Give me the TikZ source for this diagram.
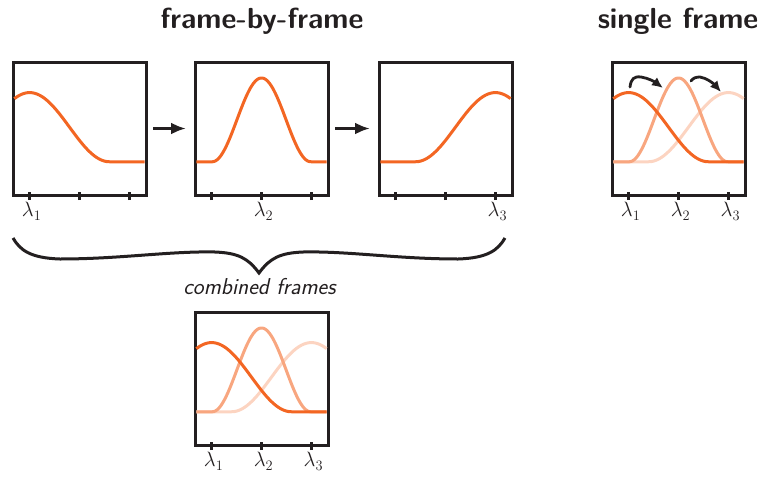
\documentclass[tikz,border=0pt]{standalone}
\usetikzlibrary{arrows.meta}
\definecolor{ink}{RGB}{35,31,32}
\definecolor{orng}{RGB}{243,102,35}
\colorlet{orngB}{orng!58!white}
\colorlet{orngC}{orng!28!white}
\begin{document}
\begin{tikzpicture}[x=1pt,y=-1pt,
  declare function={bump(\s,\m,\v)=(abs(\s-\m)<\v)*(1+cos(180*(\s-\m)/\v))/2;},
  fbox/.style={draw=ink, line width=3pt, minimum size=133pt, inner sep=0pt, outer sep=0pt, anchor=north west},
  cA/.style={draw=orng, line width=3pt},
  cB/.style={draw=orngB, line width=3pt},
  cC/.style={draw=orngC, line width=3pt},
  tickmark/.style={draw=ink, line width=3pt},
  lam/.style={anchor=base, inner sep=0pt, xshift=2pt, text=ink, font=\fontsize{20}{22}\selectfont},
  title/.style={anchor=base, inner sep=0pt, text=ink, font=\fontsize{29}{32}\selectfont\sffamily\bfseries},
  arr/.style={draw=ink, line width=3pt, -{Latex[length=15pt,width=12pt]}},
  carr/.style={draw=ink, line width=2.8pt, line cap=round, -{Latex[length=11pt,width=10pt]}},
  brace/.style={draw=ink, line width=3pt, line join=miter}
]
\useasboundingbox (0,0) rectangle (761,477);

% titles
\node[title] (t1) at (262,28) {frame-by-frame};
\node[title] (t2) at (678,28) {single frame};

% boxes
\node[fbox] (f1) at (13,62) {};
\node[fbox] (f2) at (195,62) {};
\node[fbox] (f3) at (379,62) {};
\node[fbox] (sf) at (612,62) {};
\node[fbox] (cf) at (195,312) {};

% frame 1
\begin{scope}[shift={(f1.south west)}, x=133pt, y=133pt]
  \draw[cA] plot[domain=0.01:0.99, samples=90, smooth] (\x,{0.25+0.52*bump(\x,0.125,0.6)});
  \foreach \t in {0.125,0.5,0.875} \draw[tickmark] (\t,-0.038) -- (\t,0.025);
  \node[lam] (l11) at (0.125,-0.165) {$\lambda_1$};
\end{scope}
% frame 2
\begin{scope}[shift={(f2.south west)}, x=133pt, y=133pt]
  \draw[cA] plot[domain=0.01:0.99, samples=90, smooth] (\x,{0.25+0.63*bump(\x,0.5,0.37)});
  \foreach \t in {0.125,0.5,0.875} \draw[tickmark] (\t,-0.038) -- (\t,0.025);
  \node[lam] (l22) at (0.5,-0.165) {$\lambda_2$};
\end{scope}
% frame 3
\begin{scope}[shift={(f3.south west)}, x=133pt, y=133pt]
  \draw[cA] plot[domain=0.01:0.99, samples=90, smooth] (\x,{0.25+0.52*bump(\x,0.875,0.6)});
  \foreach \t in {0.125,0.5,0.875} \draw[tickmark] (\t,-0.038) -- (\t,0.025);
  \node[lam] (l33) at (0.875,-0.165) {$\lambda_3$};
\end{scope}
% single frame
\begin{scope}[shift={(sf.south west)}, x=133pt, y=133pt]
  \draw[cC] plot[domain=0.01:0.99, samples=90, smooth] (\x,{0.25+0.52*bump(\x,0.875,0.6)});
  \draw[cB] plot[domain=0.01:0.99, samples=90, smooth] (\x,{0.25+0.63*bump(\x,0.5,0.37)});
  \draw[cA] plot[domain=0.01:0.99, samples=90, smooth] (\x,{0.25+0.52*bump(\x,0.125,0.6)});
  \foreach \t in {0.125,0.5,0.875} \draw[tickmark] (\t,-0.038) -- (\t,0.025);
  \node[lam] (sl1) at (0.125,-0.165) {$\lambda_1$};
  \node[lam] (sl2) at (0.5,-0.165) {$\lambda_2$};
  \node[lam] (sl3) at (0.875,-0.165) {$\lambda_3$};
\end{scope}
% combined frame
\begin{scope}[shift={(cf.south west)}, x=133pt, y=133pt]
  \draw[cC] plot[domain=0.01:0.99, samples=90, smooth] (\x,{0.25+0.52*bump(\x,0.875,0.6)});
  \draw[cB] plot[domain=0.01:0.99, samples=90, smooth] (\x,{0.25+0.63*bump(\x,0.5,0.37)});
  \draw[cA] plot[domain=0.01:0.99, samples=90, smooth] (\x,{0.25+0.52*bump(\x,0.125,0.6)});
  \foreach \t in {0.125,0.5,0.875} \draw[tickmark] (\t,-0.038) -- (\t,0.025);
  \node[lam] (cl1) at (0.125,-0.165) {$\lambda_1$};
  \node[lam] (cl2) at (0.5,-0.165) {$\lambda_2$};
  \node[lam] (cl3) at (0.875,-0.165) {$\lambda_3$};
\end{scope}

% arrows between frames
\draw[arr, shorten <=7pt, shorten >=9pt] (f1.east) -- (f2.west);
\draw[arr, shorten <=7pt, shorten >=9pt] (f2.east) -- (f3.west);

% curved arrows in single frame
\coordinate (a1s) at (630,87);
\coordinate (a1e) at (663,88);
\coordinate (a2s) at (691,81);
\coordinate (a2e) at (721,92);
\draw[carr] (a1s) .. controls (631,79) and (634,76) .. (641,77) .. controls (648,78) and (655,82) .. (a1e);
\draw[carr] (a2s) .. controls (693,78) and (696,77) .. (700,77) .. controls (707,78) and (714,84) .. (a2e);

% brace
\draw[brace] (13,238) .. controls (20,250) and (30,258) .. (60,259)
  .. controls (120,259) and (170,251) .. (215,252)
  .. controls (238,253) and (248,258) .. (259,273)
  .. controls (270,258) and (280,253) .. (303,252)
  .. controls (348,251) and (398,259) .. (458,259)
  .. controls (488,258) and (498,250) .. (505,238);

\node[anchor=base, inner sep=0pt, text=ink, font=\fontsize{23}{26}\selectfont\sffamily\itshape] (cap) at (259.5,294) {combined frames};
\end{tikzpicture}
\end{document}
